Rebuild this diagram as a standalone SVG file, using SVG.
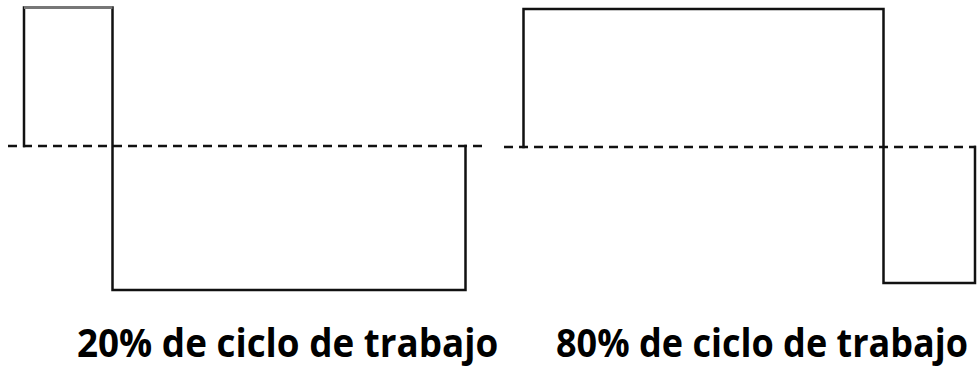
<svg xmlns="http://www.w3.org/2000/svg" width="980" height="379" viewBox="0 0 980 379">
<style>
.wave{fill:none;stroke:#111;stroke-width:2.5;stroke-linejoin:miter;stroke-linecap:square}
.axis{fill:none;stroke:#111;stroke-width:2.5;stroke-dasharray:9 6}
.lbl{font-family:"Open Sans","Liberation Sans",sans-serif;font-weight:bold;font-size:39px;fill:#000}
</style>
<rect width="980" height="379" fill="#fff"/>
<g id="axes">
<line class="axis" x1="8" y1="146" x2="486" y2="146"/>
<line class="axis" x1="504" y1="147" x2="976" y2="147"/>
</g>
<g id="wave20">
<path class="wave" d="M24 146 V7.5 H112.5 V290 H465.5 V146"/>
<line x1="24" y1="7.5" x2="112.5" y2="7.5" stroke="#777" stroke-width="3"/>
</g>
<g id="wave80">
<path class="wave" d="M523.5 147 V9 H883.5 V283 H975 V147"/>
</g>
<g id="labels">
<text class="lbl" transform="translate(77 357) scale(0.92 1)" x="0" y="0" textLength="458" lengthAdjust="spacingAndGlyphs">20% de ciclo de trabajo</text>
<text class="lbl" transform="translate(556 357) scale(0.92 1)" x="0" y="0" textLength="448" lengthAdjust="spacingAndGlyphs">80% de ciclo de trabajo</text>
</g>
</svg>
